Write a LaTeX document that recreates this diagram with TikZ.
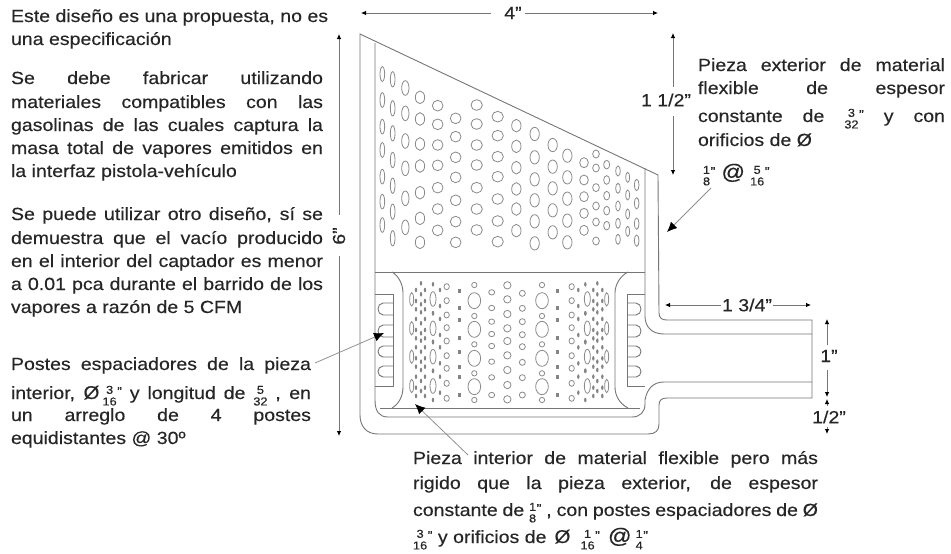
\documentclass[tikz,border=0pt]{standalone}
\usepackage{fontspec}
\setmainfont[FakeStretch=1.11,FakeBold=0.25]{Liberation Sans}
\usetikzlibrary{arrows.meta}
\definecolor{ink}{HTML}{262626}
\definecolor{wire}{HTML}{767676}
\newcommand\frc[2]{$\vcenter{\offinterlineskip\fontsize{11.5}{11.5}\selectfont\halign{\hfil##\hfil\cr\rule{0pt}{10pt}#1\cr\noalign{\kern1.5pt}\rule{0pt}{10pt}#2\cr}}$}
\newcommand\qt{\kern0.5pt\raisebox{3pt}{\fontsize{13}{13}\selectfont"}}
\newcommand\bg[1]{{\fontsize{18.5}{20}\selectfont #1}}
\newcommand\bga[1]{{\fontsize{21}{21}\selectfont #1}}
\newcommand\js[2]{\makebox[#1pt][s]{#2}}
\tikzset{
  txt/.style={anchor=base west,inner sep=0pt,outer sep=0pt,text=ink,font=\fontsize{17.6}{20}\selectfont},
  dimlab/.style={anchor=center,inner sep=0pt,outer sep=0pt,text=ink,font=\fontsize{17.6}{20}\selectfont},
  wl/.style={draw=wire,line width=0.9pt},
  hole/.style={draw=wire!85,line width=0.8pt,fill=white},
  dot/.style={fill=wire!90},
  dim/.style={draw=wire,line width=0.8pt,-{Latex[length=5pt,width=4.5pt,black]}},
  lead/.style={draw=wire!80,line width=0.8pt,-{Latex[length=10pt,width=9pt,black]}}
}
\begin{document}
\begin{tikzpicture}[x=1pt,y=-1pt]
\fill[white] (0,0) rectangle (951,554);
\useasboundingbox (0,0) rectangle (951,554);
% upper holes
\foreach \cx/\rx/\ry/\ys in {
127/7/22/{162,240,320,390,470,545,615},
158/7/23/{178,265,340,420,497,575,655},
196/11/22/{204,280,363,445,535,622},
240/14/19/{232,297,372,438,518,595,667},
293/16/16/{257,313,375,436,503,567,631},
347/16/16/{295,350,412,472,541,605,667},
410/17/16/{255,312,375,435,503,567,630},
473/17/16/{290,347,410,470,537,603,665},
529/14/19/{317,379,443,507,567,632},
584/14/20/{342,412,478,541,604,670},
638/14/20/{375,440,505,571,637},
682/14/20/{407,472,536,602,667},
732/13/15/{428,480,530,580,631},
768/10/12/{402,444,503,558,606,663},
800/9/13/{434,480,527,572,617},
834/7/15/{453,505,558,610,658},
863/6/15/{472,525,582,634},
890/7/17/{495,550,611,662}}{
  \foreach \yy in \ys {
    \draw[hole] ({340+\cx/3},{20+\yy/3}) ellipse [x radius=\rx/3,y radius=\ry/3];
  }
}
% lower holes
\foreach \cx/\rx/\ry/\ys in {
403/19/24/{122,208,295,380},
403/8/8/{75,168,253,340,420},
606/19/24/{122,208,295,380},
606/8/8/{75,168,253,340,420},
455/9/8/{97,144,185,222,258,305,352,405},
547/9/9/{100,145,185,224,260,307,353,405},
502/11/11/{76,118,162,205,243,286,330,375,418},
320/8/9/{80,122,165,203,243,287,325,370,415},
695/8/9/{80,122,165,203,243,287,325,370,415},
279/9/22/{117,205,290,378},
742/9/22/{117,205,290,378},
215/6/20/{118,205,290,378},
800/6/20/{118,205,290,378}}{
  \foreach \yy in \ys {
    \draw[hole] ({340+\cx/3},{260+\yy/3}) ellipse [x radius=\rx/3,y radius=\ry/3];
  }
}
\foreach \cx in {358,652}{
  \foreach \yy in {93,145,180,235,275,320,350,405}{
    \fill[dot] ({340+\cx/3-1.7},{260+\yy/3-2}) rectangle +(3.4,4);
  }
}
\foreach \cc in {118,205,290,378}{
  \foreach \dx/\dy in {243/-48,228/-28,255/-28,243/-15,228/5,255/5,243/15,228/30,255/30,279/-45,300/-28,300/20,279/42}{
    \fill[dot] ({340+\dx/3},{260+(\cc+\dy)/3}) ellipse [x radius=1.2,y radius=2.3];
    \fill[dot] ({340+(1015-\dx)/3},{260+(\cc+\dy)/3}) ellipse [x radius=1.2,y radius=2.3];
  }
}
% body
\draw[wl] (360,34) -- (658,175) -- (659,313) .. controls (659,318) and (662,320) .. (667,320) -- (812,320) -- (812,398) -- (667,398) .. controls (662,398) and (659,400) .. (659,405) -- (659,424) .. controls (659,431) and (655,434) .. (648,434) -- (378,434) .. controls (366,434) and (360,426) .. (360,415) -- cycle;
\draw[wl] (375,43) -- (375,400) .. controls (375,411) and (379,417) .. (388,417) -- (632,417) .. controls (640,417) and (645,412) .. (645,404) -- (645,400) .. controls (647,389) and (653,382) .. (664,382) -- (812,382);
\draw[wl] (645,168) -- (645,316) .. controls (645,327) and (652,334) .. (664,334) -- (812,334);
\draw[wl] (375,272) -- (645,272);
\draw[wl] (380,408) -- (640,408);
\draw[wl] (392,272) .. controls (399,276) and (403,285) .. (403,293) -- (403,387) .. controls (403,396) and (399,404) .. (392,408);
\draw[wl] (628,272) .. controls (620,276) and (615,285) .. (615,293) -- (615,387) .. controls (615,396) and (620,404) .. (628,408);
\draw[wl] (375,294) -- (393,294) -- (393,386) -- (375,386);
\draw[wl] (645,294) -- (627,294) -- (627,386) -- (645,386);
\foreach \ya/\yb in {303/315,325/337,346/357,366/377}{
  \draw[wl] (393,\ya) -- (383,\ya) .. controls (380,\ya) and (378,\ya+3) .. (378,{(\ya+\yb)/2}) .. controls (378,\yb-3) and (380,\yb) .. (383,\yb) -- (393,\yb);
  \draw[wl] (627,\ya) -- (636,\ya) .. controls (639,\ya) and (641,\ya+3) .. (641,{(\ya+\yb)/2}) .. controls (641,\yb-3) and (639,\yb) .. (636,\yb) -- (627,\yb);
}
% text blocks
\node[txt] (t1) at (11,22) {Este diseño es una propuesta, no es};
\node[txt] (t2) at (11,45) {una especificación};
\node[txt] (t3) at (11,84) {\js{312}{Se debe fabricar utilizando}};
\node[txt] (t4) at (11,108) {\js{312}{materiales compatibles con las}};
\node[txt] (t5) at (11,131) {\js{312}{gasolinas de las cuales captura la}};
\node[txt] (t6) at (11,154) {\js{312}{masa total de vapores emitidos en}};
\node[txt] (t7) at (11,177) {la interfaz pistola-vehículo};
\node[txt] (t8) at (11,220) {\js{312}{Se puede utilizar otro diseño, sí se}};
\node[txt] (t9) at (11,244) {\js{312}{demuestra que el vacío producido}};
\node[txt] (t10) at (11,267) {\js{312}{en el interior del captador es menor}};
\node[txt] (t11) at (11,290) {\js{312}{a 0.01 pca durante el barrido de los}};
\node[txt] (t12) at (11,313) {vapores a razón de 5 CFM};
\node[txt] (p1) at (11,370) {\js{300}{Postes espaciadores de la pieza}};
\node[txt] (p2) at (11,399) {\js{300}{interior, \bg{Ø}\kern3pt\frc{3}{16}\qt{} y longitud de \frc{5}{32} , en}};
\node[txt] (p3) at (11,421) {\js{300}{un arreglo de 4 postes}};
\node[txt] (p4) at (11,444) {equidistantes @ 30º};
\node[txt] (r1) at (698,71) {\js{247}{Pieza exterior de material}};
\node[txt] (r2) at (698,94) {\js{247}{flexible de espesor}};
\node[txt] (r3) at (698,122) {\js{247}{constante de \frc{3}{32}\qt{} y con}};
\node[txt] (r4) at (698,146) {orificios de Ø};
\node[txt] (r5) at (703,179) {\frc{1}{8}\qt{}\kern6pt\bga{@}\kern5pt\frc{5}{16}\qt};
\node[txt] (b1) at (413,464) {\js{405}{Pieza interior de material flexible pero más}};
\node[txt] (b2) at (413,489) {\js{405}{rigido que la pieza exterior, de espesor}};
\node[txt] (b3) at (413,516) {\js{405}{constante de \frc{1}{8}\qt{} , con postes espaciadores de Ø}};
\node[txt] (b4) at (413,543) {\frc{3}{16}\qt{} y orificios de\kern8pt\bg{Ø}\kern10pt\frc{1}{16}\qt{}\kern8pt\bga{@}\kern4pt\frc{1}{4}\qt};
% dimensions
\node[dimlab] (d4) at (513,13) {4"};
\coordinate (d4a) at (361,13); \coordinate (d4b) at (658,13);
\draw[dim] (491,13) -- (d4a);
\draw[dim] (525,13) -- (d4b);
\node[dimlab,rotate=90] (d6) at (339,236) {6"};
\coordinate (d6a) at (339,34); \coordinate (d6b) at (339,436);
\draw[dim] (339,215) -- (d6a);
\draw[dim] (339,256) -- (d6b);
\node[dimlab] (d15) at (666,100) {1 1/2"};
\coordinate (d15a) at (673,33); \coordinate (d15b) at (673,175);
\draw[dim] (673,87) -- (d15a);
\draw[dim] (673,116) -- (d15b);
\node[dimlab] (d175) at (747,305) {1 3/4"};
\coordinate (d175a) at (665,305); \coordinate (d175b) at (811,305);
\draw[dim] (d175.west) ++(-1,0) -- (d175a);
\draw[dim] (d175.east) ++(1,0) -- (d175b);
\node[dimlab] (d1) at (829,356) {1"};
\coordinate (d1a) at (827,319); \coordinate (d1b) at (827,397);
\draw[dim] (827,345) -- (d1a);
\draw[dim] (827,370) -- (d1b);
\node[dimlab] (d12) at (829,417) {1/2"};
\coordinate (d12a) at (827,399); \coordinate (d12b) at (827,434);
\draw[dim] (827,406) -- (d12a);
\draw[dim] (827,427) -- (d12b);
% leaders
\coordinate (l1s) at (711,188); \coordinate (l1e) at (667,232);
\coordinate (l2s) at (315,363); \coordinate (l2e) at (384,333);
\coordinate (l3s) at (468,455); \coordinate (l3e) at (415,404);
\draw[lead] (l1s) -- (l1e);
\draw[lead] (l2s) -- (l2e);
\draw[lead] (l3s) -- (l3e);
\end{tikzpicture}
\end{document}
